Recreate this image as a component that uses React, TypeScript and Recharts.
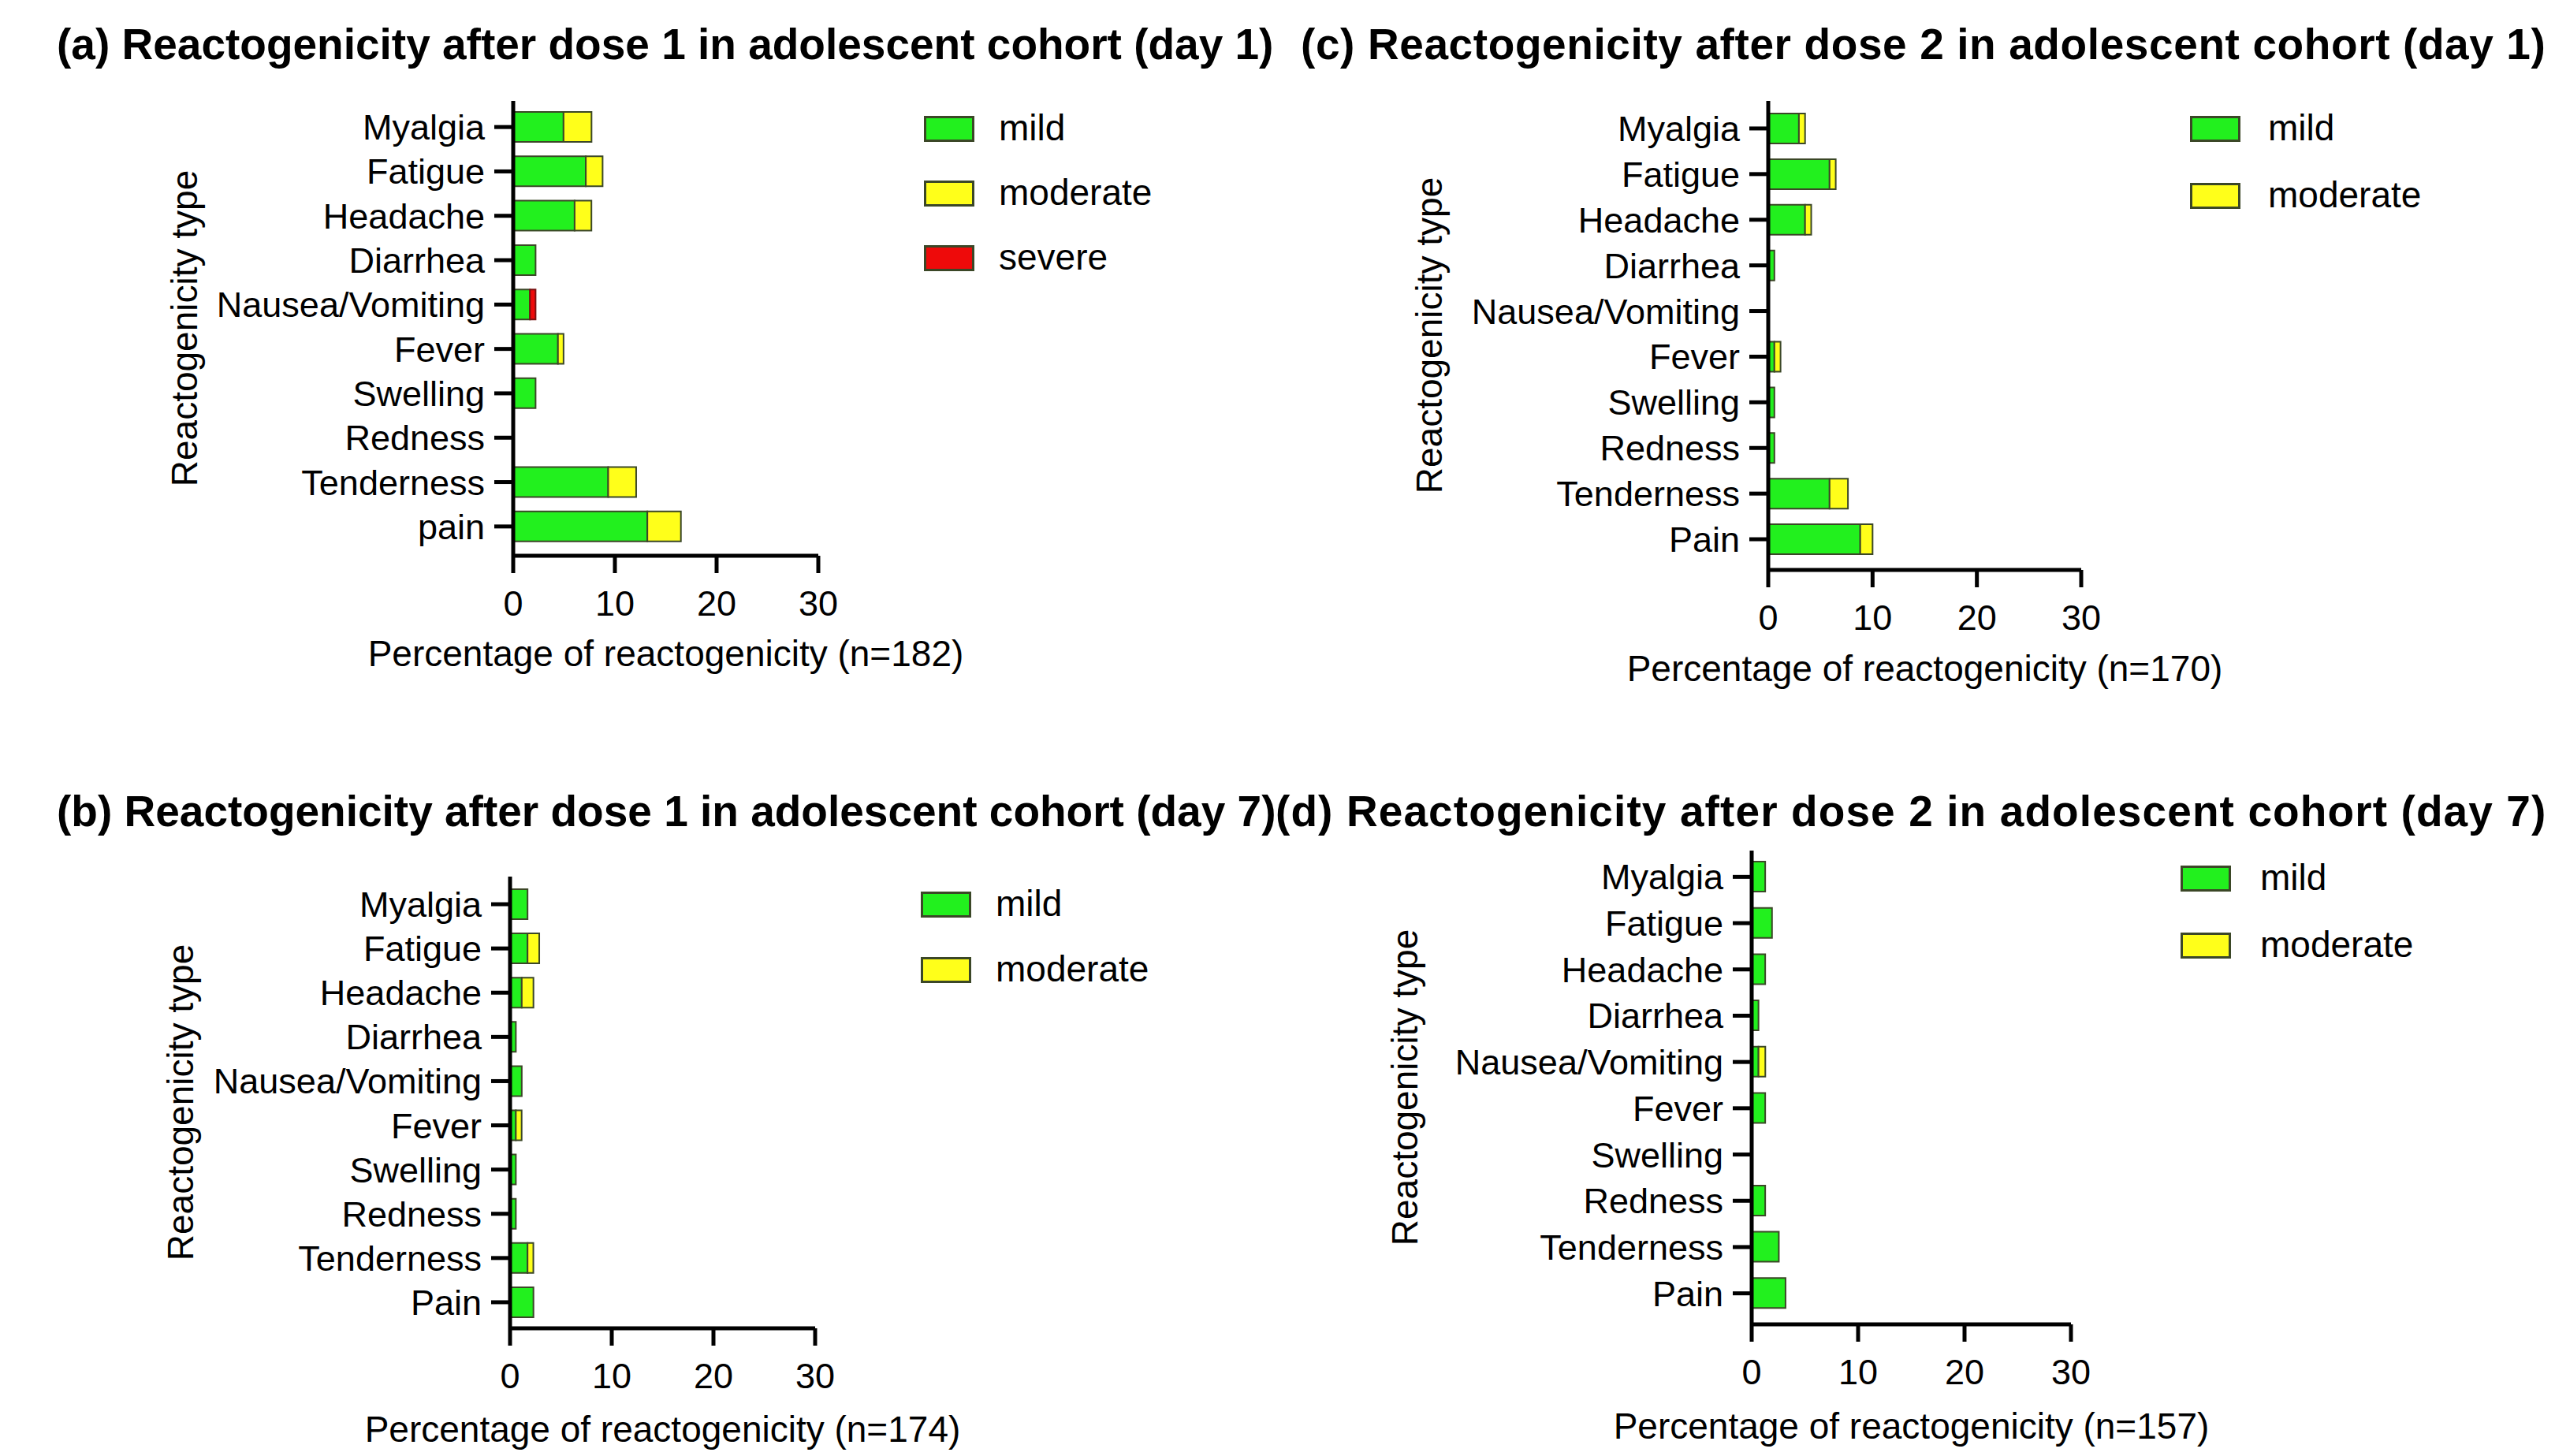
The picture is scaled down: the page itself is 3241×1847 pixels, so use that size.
import { BarChart, Bar, XAxis, YAxis, Label } from 'recharts'

const FONT = '"Liberation Sans", Arial, Helvetica, sans-serif'
const GREEN = '#22F01E'
const YELLOW = '#FFFF1A'
const RED = '#EE0A0A'
const EDGE = '#3b4727'

// categories (top to bottom)
const catsA = ['Myalgia', 'Fatigue', 'Headache', 'Diarrhea', 'Nausea/Vomiting', 'Fever', 'Swelling', 'Redness', 'Tenderness', 'pain']
const cats = ['Myalgia', 'Fatigue', 'Headache', 'Diarrhea', 'Nausea/Vomiting', 'Fever', 'Swelling', 'Redness', 'Tenderness', 'Pain']
const xTicks = [0, 10, 20, 30]

// (a) dose 1, day 1, n=182
const mildA = [4.95, 7.14, 6.04, 2.2, 1.65, 4.4, 2.2, 0, 9.34, 13.19]
const moderateA = [2.75, 1.65, 1.65, 0, 0, 0.55, 0, 0, 2.75, 3.3]
const severeA = [0, 0, 0, 0, 0.55, 0, 0, 0, 0, 0]

// (b) dose 1, day 7, n=174
const mildB = [1.72, 1.72, 1.15, 0.57, 1.15, 0.57, 0.57, 0.57, 1.72, 2.3]
const moderateB = [0, 1.15, 1.15, 0, 0, 0.57, 0, 0, 0.57, 0]

// (c) dose 2, day 1, n=170
const mildC = [2.94, 5.88, 3.53, 0.59, 0, 0.59, 0.59, 0.59, 5.88, 8.82]
const moderateC = [0.59, 0.59, 0.59, 0, 0, 0.59, 0, 0, 1.76, 1.18]

// (d) dose 2, day 7, n=157
const mildD = [1.27, 1.91, 1.27, 0.64, 0.64, 1.27, 0, 1.27, 2.55, 3.18]
const moderateD = [0, 0, 0, 0, 0.64, 0, 0, 0, 0, 0]

function rows(c: string[], mild: number[], moderate: number[], severe?: number[]) {
  return c.map((type, i) => ({ type, mild: mild[i], moderate: moderate[i], severe: severe ? severe[i] : 0 }))
}

const LEFT_PAD = 520
const TOP_PAD = 20
const RIGHT_PAD = 260
const X_AXIS_H = 170
const Y_AXIS_W = 460

type LegendItem = { name: string; color: string }

type PanelDef = {
  title: string
  titleX: number
  titleY: number
  titleSpacing: number
  left: number
  right: number
  top: number
  bottom: number
  padTop: number
  padBottom: number
  yLabelDx: number
  xLabelDy: number
  xLabel: string
  data: ReturnType<typeof rows>
  hasSevere: boolean
  legend: LegendItem[]
  legendX: number
  legendY: number
  legendDy: number
  legendTextX: number
}

const mildItem = { name: 'mild', color: GREEN }
const modItem = { name: 'moderate', color: YELLOW }
const sevItem = { name: 'severe', color: RED }

const panels: PanelDef[] = [
  {
    title: '(a) Reactogenicity after dose 1 in adolescent cohort (day 1)',
    titleX: 72, titleY: 56, titleSpacing: 0,
    left: 651, right: 1038, top: 128, bottom: 705, padTop: 5, padBottom: 9,
    yLabelDx: -417, xLabelDy: 124,
    xLabel: 'Percentage of reactogenicity (n=182)',
    data: rows(catsA, mildA, moderateA, severeA), hasSevere: true,
    legend: [mildItem, modItem, sevItem], legendX: 1172, legendY: 163, legendDy: 82, legendTextX: 1267,
  },
  {
    title: '(c) Reactogenicity after dose 2 in adolescent cohort (day 1)',
    titleX: 1650, titleY: 56, titleSpacing: 0.6,
    left: 2243, right: 2640, top: 128, bottom: 723, padTop: 6, padBottom: 10,
    yLabelDx: -430, xLabelDy: 125,
    xLabel: 'Percentage of reactogenicity (n=170)',
    data: rows(cats, mildC, moderateC), hasSevere: false,
    legend: [mildItem, modItem], legendX: 2778, legendY: 163, legendDy: 85, legendTextX: 2877,
  },
  {
    title: '(b) Reactogenicity after dose 1 in adolescent cohort (day 7)',
    titleX: 72, titleY: 1029, titleSpacing: 0,
    left: 647, right: 1034, top: 1112, bottom: 1685, padTop: 7, padBottom: 5,
    yLabelDx: -418, xLabelDy: 128,
    xLabel: 'Percentage of reactogenicity (n=174)',
    data: rows(cats, mildB, moderateB), hasSevere: false,
    legend: [mildItem, modItem], legendX: 1168, legendY: 1147, legendDy: 83, legendTextX: 1263,
  },
  {
    title: '(d) Reactogenicity after dose 2 in adolescent cohort (day 7)',
    titleX: 1618, titleY: 1029, titleSpacing: 1.1,
    left: 2222, right: 2627, top: 1079, bottom: 1680, padTop: 4, padBottom: 10,
    yLabelDx: -440, xLabelDy: 129,
    xLabel: 'Percentage of reactogenicity (n=157)',
    data: rows(cats, mildD, moderateD), hasSevere: false,
    legend: [mildItem, modItem], legendX: 2766, legendY: 1114, legendDy: 85, legendTextX: 2867,
  },
]

const axisStroke = { stroke: '#000', strokeWidth: 5 }

function Panel({ p }: { p: PanelDef }) {
  const plotW = p.right - p.left
  const plotH = p.bottom - p.top
  const width = LEFT_PAD + plotW + RIGHT_PAD
  const height = TOP_PAD + plotH + X_AXIS_H
  return (
    <>
      <div
        style={{
          position: 'absolute',
          left: p.titleX,
          top: p.titleY - 27,
          fontSize: 55,
          lineHeight: '55px',
          fontWeight: 'bold',
          letterSpacing: p.titleSpacing,
          whiteSpace: 'nowrap',
          color: '#000',
        }}
      >
        {p.title}
      </div>
      <div style={{ position: 'absolute', left: p.left - LEFT_PAD, top: p.top - TOP_PAD }}>
        <BarChart
          width={width}
          height={height}
          data={p.data}
          layout="vertical"
          barSize={38}
          style={{ overflow: 'visible' }}
          margin={{ top: TOP_PAD, right: RIGHT_PAD, bottom: 0, left: LEFT_PAD - Y_AXIS_W }}
        >
          <XAxis
            type="number"
            domain={[0, 30]}
            ticks={xTicks}
            interval={0}
            height={X_AXIS_H}
            axisLine={axisStroke}
            tickLine={axisStroke}
            tickSize={22}
            tickMargin={22}
            tick={{ fontSize: 45, fill: '#000' }}
          >
            <Label
              content={(props: any) => {
                const vb = props.viewBox
                const cx = vb.x + vb.width / 2
                const cy = vb.y + p.xLabelDy
                return (
                  <text x={cx} y={cy} textAnchor="middle" dominantBaseline="central" fontSize={46} fill="#000">
                    {p.xLabel}
                  </text>
                )
              }}
            />
          </XAxis>
          <YAxis
            type="category"
            dataKey="type"
            width={Y_AXIS_W}
            padding={{ top: p.padTop, bottom: p.padBottom }}
            axisLine={axisStroke}
            tickLine={axisStroke}
            tickSize={24}
            tickMargin={12}
            interval={0}
            tick={{ fontSize: 45, fill: '#000' }}
          >
            <Label
              content={(props: any) => {
                const vb = props.viewBox
                const cx = vb.x + vb.width + p.yLabelDx
                const cy = vb.y + vb.height / 2
                return (
                  <text
                    x={cx}
                    y={cy}
                    transform={`rotate(-90 ${cx} ${cy})`}
                    textAnchor="middle"
                    dominantBaseline="central"
                    fontSize={46}
                    fill="#000"
                  >
                    Reactogenicity type
                  </text>
                )
              }}
            />
          </YAxis>
          <Bar dataKey="mild" stackId="s" fill={GREEN} stroke={EDGE} strokeWidth={2} isAnimationActive={false} />
          <Bar dataKey="moderate" stackId="s" fill={YELLOW} stroke={EDGE} strokeWidth={2} isAnimationActive={false} />
          {p.hasSevere && (
            <Bar dataKey="severe" stackId="s" fill={RED} stroke="#7a1010" strokeWidth={2} isAnimationActive={false} />
          )}
        </BarChart>
      </div>
      {p.legend.map((item, i) => {
        const cy = p.legendY + i * p.legendDy
        return (
          <div key={item.name}>
            <div
              style={{
                position: 'absolute',
                left: p.legendX,
                top: cy - 16,
                width: 58,
                height: 27,
                background: item.color,
                border: `3px solid ${EDGE}`,
              }}
            />
            <div
              style={{
                position: 'absolute',
                left: p.legendTextX,
                top: cy - 27,
                fontSize: 46,
                lineHeight: '52px',
                color: '#000',
                whiteSpace: 'nowrap',
              }}
            >
              {item.name}
            </div>
          </div>
        )
      })}
    </>
  )
}

export default function App() {
  return (
    <div
      style={{
        position: 'absolute',
        left: 0,
        top: 0,
        width: 3241,
        height: 1847,
        background: '#fff',
        fontFamily: FONT,
        overflow: 'hidden',
      }}
    >
      {panels.map((p) => (
        <Panel key={p.title} p={p} />
      ))}
    </div>
  )
}
